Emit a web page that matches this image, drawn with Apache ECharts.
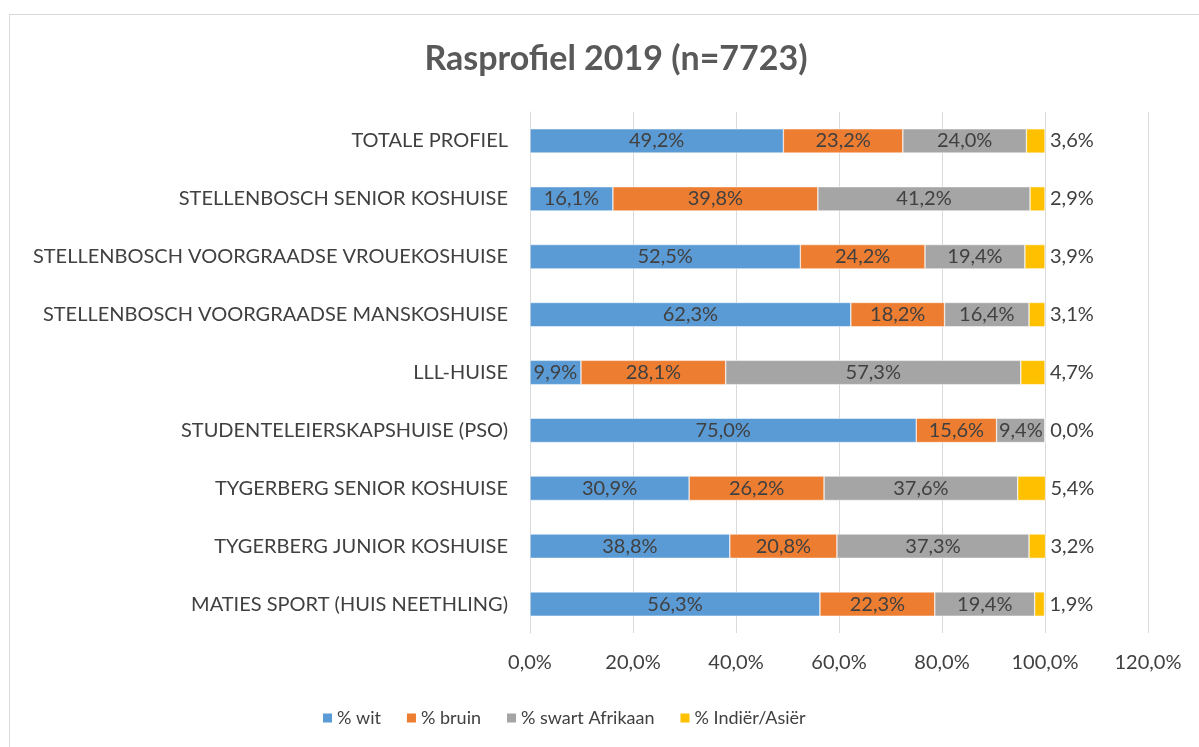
<!DOCTYPE html>
<html>
<head>
<meta charset="utf-8">
<script src="https://cdn.jsdelivr.net/npm/echarts@6/dist/echarts.min.js"></script>
<style>
  html, body { margin: 0; padding: 0; background: #fff; overflow: hidden; }
  #frame { position: absolute; left: 9px; top: 14px; width: 1300px; height: 900px; border: 1px solid #d9d9d9; }
  #chart { position: absolute; left: 0; top: 0; width: 1199px; height: 747px; }
</style>
</head>
<body>
<div id="frame"></div>
<div id="chart"></div>
<script>
// Categories, top to bottom
const categories = [
  'TOTALE PROFIEL',
  'STELLENBOSCH SENIOR KOSHUISE',
  'STELLENBOSCH VOORGRAADSE VROUEKOSHUISE',
  'STELLENBOSCH VOORGRAADSE MANSKOSHUISE',
  'LLL-HUISE',
  'STUDENTELEIERSKAPSHUISE (PSO)',
  'TYGERBERG SENIOR KOSHUISE',
  'TYGERBERG JUNIOR KOSHUISE',
  'MATIES SPORT (HUIS NEETHLING)'
];

const wit = [49.2, 16.1, 52.5, 62.3, 9.9, 75.0, 30.9, 38.8, 56.3];
const bruin = [23.2, 39.8, 24.2, 18.2, 28.1, 15.6, 26.2, 20.8, 22.3];
const swart = [24.0, 41.2, 19.4, 16.4, 57.3, 9.4, 37.6, 37.3, 19.4];
const indier = [3.6, 2.9, 3.9, 3.1, 4.7, 0.0, 5.4, 3.2, 1.9];

const seriesNames = ['% wit', '% bruin', '% swart Afrikaan', '% Indiër/Asiër'];
const colors = ['#5b9bd5', '#ed7d31', '#a5a5a5', '#ffc000'];

const FONT = 'Lato, "Open Sans", sans-serif';
const TEXT = '#404040';

function pct(v) {
  return v.toFixed(1).replace('.', ',') + '%';
}

const chart = echarts.init(document.getElementById('chart'), null, { renderer: 'canvas' });

function barSeries(name, data, color, labelPos) {
  return {
    name: name,
    type: 'bar',
    stack: 'total',
    data: data,
    barCategoryGap: '58%',
    itemStyle: { color: color, borderColor: '#fff', borderWidth: 0.5 },
    label: {
      show: true,
      position: labelPos,
      distance: 5,
      color: TEXT,
      fontFamily: FONT,
      fontSize: 20,
      formatter: p => pct(p.value)
    }
  };
}

chart.setOption({
  animation: false,
  title: {
    text: 'Rasprofiel 2019 (n=7723)',
    left: 611,
    textAlign: 'center',
    top: 37,
    textStyle: { fontFamily: FONT, fontWeight: 'bold', fontSize: 34, color: '#595959' }
  },
  legend: {
    bottom: 15,
    left: 316,
    itemWidth: 11,
    itemHeight: 11,
    itemGap: 24,
    icon: 'rect',
    textStyle: { fontFamily: FONT, fontSize: 18, color: TEXT, padding: [0, 0, 0, -1] },
    data: seriesNames
  },
  grid: { left: 530, right: 51, top: 112, bottom: 114, containLabel: false },
  xAxis: {
    type: 'value',
    min: 0,
    max: 120,
    interval: 20,
    axisLine: { show: false },
    axisTick: { show: false },
    axisLabel: {
      color: TEXT, fontFamily: FONT, fontSize: 20, margin: 20,
      formatter: v => pct(v)
    },
    splitLine: { lineStyle: { color: '#d9d9d9', width: 1 } }
  },
  yAxis: {
    type: 'category',
    data: categories,
    inverse: true,
    axisLine: { show: true, lineStyle: { color: '#d9d9d9' } },
    axisTick: { show: false },
    axisLabel: { color: TEXT, fontFamily: FONT, fontSize: 20, margin: 22 }
  },
  series: [
    barSeries(seriesNames[0], wit, colors[0], 'inside'),
    barSeries(seriesNames[1], bruin, colors[1], 'inside'),
    barSeries(seriesNames[2], swart, colors[2], 'inside'),
    barSeries(seriesNames[3], indier, colors[3], 'right')
  ]
});
</script>
</body>
</html>
